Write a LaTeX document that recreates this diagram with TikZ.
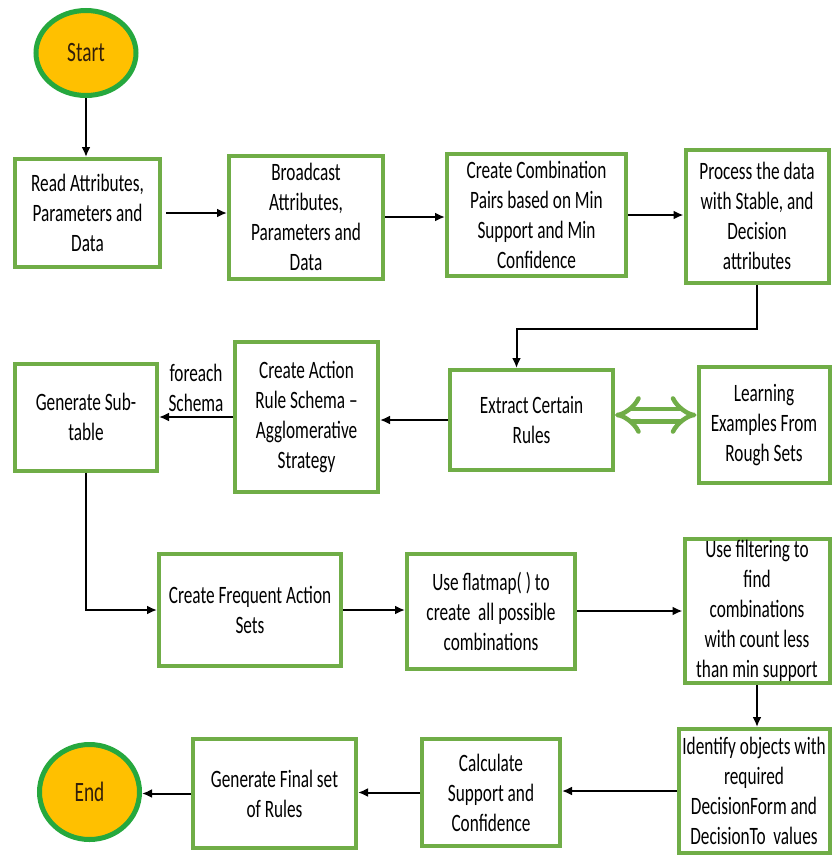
\documentclass[tikz,border=0pt]{standalone}
\usepackage{fontspec}
\setmainfont{Carlito}[FakeStretch=0.69]
\usetikzlibrary{shapes.geometric,arrows.meta}
\definecolor{boxgreen}{RGB}{112,173,71}
\definecolor{ovalgreen}{RGB}{38,168,62}
\definecolor{ovalfill}{RGB}{255,192,0}
\definecolor{ovaltext}{RGB}{50,30,10}
\begin{document}
\begin{tikzpicture}[x=1pt, y=-1pt,
    every node/.style={font=\fontsize{25}{30}\selectfont, align=center, inner sep=0pt},
    stepbox/.style={draw=boxgreen, line width=4pt, fill=white},
    terminal/.style={ellipse, draw=ovalgreen, line width=5pt, fill=ovalfill, text=ovaltext, font=\fontsize{28}{30}\selectfont},
    flow/.style={->, >={Latex[length=10pt, width=9pt]}, line width=2pt}]
    \useasboundingbox (0,0) rectangle (832,857);

    % top row
    \node[terminal, minimum width=100pt, minimum height=85pt] (start) at (86,53) {Start};
    \node[stepbox, minimum width=145pt, minimum height=108pt] (read) at (87.5,213) {Read Attributes,\\Parameters and\\Data};
    \node[stepbox, minimum width=154pt, minimum height=123pt] (bcast) at (306,217) {Broadcast\\Attributes,\\Parameters and\\Data};
    \node[stepbox, minimum width=179pt, minimum height=122pt] (combine) at (536.5,215) {Create Combination\\Pairs based on Min\\Support and Min\\Confidence};
    \node[stepbox, minimum width=143pt, minimum height=133pt] (process) at (757,216) {Process the data\\with Stable, and\\Decision\\attributes};

    % second row
    \node[stepbox, minimum width=142pt, minimum height=107pt] (subtable) at (86,417) {Generate Sub-\\table};
    \node[stepbox, minimum width=143pt, minimum height=150pt] (schema) at (306.5,417) {Create Action\\Rule Schema --\\Agglomerative\\Strategy};
    \node[stepbox, minimum width=163pt, minimum height=100pt] (extract) at (531.5,420) {Extract Certain\\Rules};
    \node[stepbox, minimum width=131pt, minimum height=116pt] (learn) at (764,425) {Learning\\Examples From\\Rough Sets};

    % third row
    \node[stepbox, minimum width=182pt, minimum height=112pt] (frequent) at (250,610) {Create Frequent Action\\Sets};
    \node[stepbox, minimum width=168pt, minimum height=115pt] (flatmap) at (491,611) {Use flatmap( ) to\\create\ \ all possible\\combinations};
    \node[stepbox, minimum width=145pt, minimum height=144pt] (filter) at (757,611) {Use filtering to\\find\\combinations\\with count less\\than min support};

    % bottom row
    \node[terminal, minimum width=100pt, minimum height=95pt] (stop) at (89.5,792) {End};
    \node[stepbox, minimum width=163pt, minimum height=109pt] (final) at (274.5,793.5) {Generate Final set\\of Rules};
    \node[stepbox, minimum width=138pt, minimum height=107pt] (calc) at (491,792.5) {Calculate\\Support and\\Confidence};
    \node[stepbox, minimum width=151pt, minimum height=124pt] (identify) at (754,791) {Identify objects with\\required\\DecisionForm and\\DecisionTo\ \ values};

    % connectors
    \draw[flow] (start.south) -- (start.south |- read.north);
    \draw[flow, shorten <=4pt] (read.east) -- (read.east -| bcast.west);
    \draw[flow] (bcast.east) -- (bcast.east -| combine.west);
    \draw[flow] (combine.east) -- (combine.east -| process.west);
    \draw[flow] (process.south) -- ++(0,44) -| ([xshift=-15pt]extract.north);
    \draw[flow] (extract.west) -- (extract.west -| schema.east);
    \draw[boxgreen, line width=4.5pt, double=white, double distance=8pt, {Implies[length=13pt]}-{Implies[length=13pt]}] ([yshift=5pt]extract.east) -- ([yshift=5pt]extract.east -| learn.west);
    \draw[flow] (schema.west) -- (schema.west -| subtable.east) node[midway, above=4pt] {foreach\\Schema};
    \draw[flow] (subtable.south) |- (frequent.west);
    \draw[flow] (frequent.east) -- (frequent.east -| flatmap.west);
    \draw[flow] (flatmap.east) -- (flatmap.east -| filter.west);
    \draw[flow] (filter.south) -- (filter.south |- identify.north);
    \draw[flow] (identify.west) -- (identify.west -| calc.east);
    \draw[flow] (calc.west) -- (calc.west -| final.east);
    \draw[flow] (final.west) -- (final.west -| stop.east);
\end{tikzpicture}
\end{document}
